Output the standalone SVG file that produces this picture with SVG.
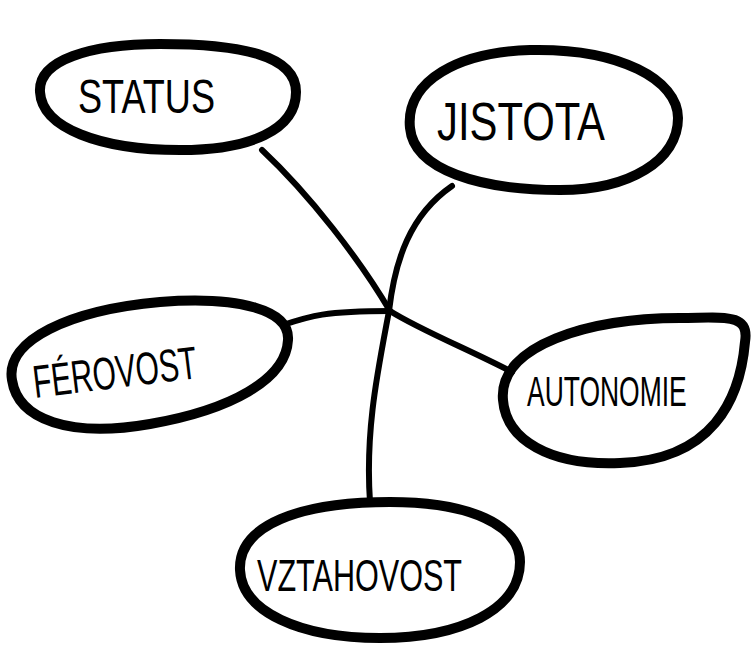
<svg xmlns="http://www.w3.org/2000/svg" width="751" height="651" viewBox="0 0 751 651">
<style>
.blob{fill:none;stroke:#000;stroke-width:10;stroke-linejoin:round}
.conn{fill:none;stroke:#000;stroke-width:6;stroke-linecap:round}
.lbl{font-family:"Liberation Sans",Arial,sans-serif;fill:#000;font-weight:normal}
</style>
<rect width="751" height="651" fill="#fff"/>
<g id="connectors">
<path class="conn" d="M262,150 C310,195 360,260 390,311 C420,330 470,350 512,372"/>
<path class="conn" d="M452,186 C410,215 395,260 389,311 C378,370 365,430 370,502"/>
<path class="conn" d="M283,325 C310,316 325,311 390,311"/>
</g>
<g id="status">
<path class="blob" d="M40,92 C38,60 90,44 160,44 C240,44 296,55 296,92 C296,130 250,150 180,150 C100,150 42,128 40,92 Z"/>
<text class="lbl" x="78" y="113" font-size="48" textLength="137" lengthAdjust="spacingAndGlyphs">STATUS</text>
</g>
<g id="jistota">
<path class="blob" d="M410,128 C405,80 460,52 530,50 C620,48 678,80 678,118 C678,160 630,190 560,190 C480,190 414,170 410,128 Z"/>
<text class="lbl" x="437" y="140" font-size="54" textLength="168" lengthAdjust="spacingAndGlyphs">JISTOTA</text>
</g>
<g id="ferovost">
<path class="blob" d="M12,380 C5,340 70,310 160,302 C240,296 290,310 288,340 C286,380 230,410 150,424 C70,438 18,420 12,380 Z"/>
<text class="lbl" x="35" y="398" font-size="46" textLength="165" lengthAdjust="spacingAndGlyphs" transform="rotate(-7 35 398)">FÉROVOST</text>
</g>
<g id="autonomie">
<path class="blob" d="M503,400 C498,345 590,318 680,318 C722,318 750,312 745,342 C740,400 712,460 620,463 C550,466 506,440 503,400 Z"/>
<text class="lbl" x="0" y="0" font-size="27" transform="translate(527,406) scale(0.98,1.55)">AUTONOMIE</text>
</g>
<g id="vztahovost">
<path class="blob" d="M240,570 C238,525 300,502 390,502 C470,502 520,525 520,562 C520,610 460,638 380,638 C300,638 242,612 240,570 Z"/>
<text class="lbl" x="257" y="591" font-size="44" textLength="205" lengthAdjust="spacingAndGlyphs">VZTAHOVOST</text>
</g>
</svg>
